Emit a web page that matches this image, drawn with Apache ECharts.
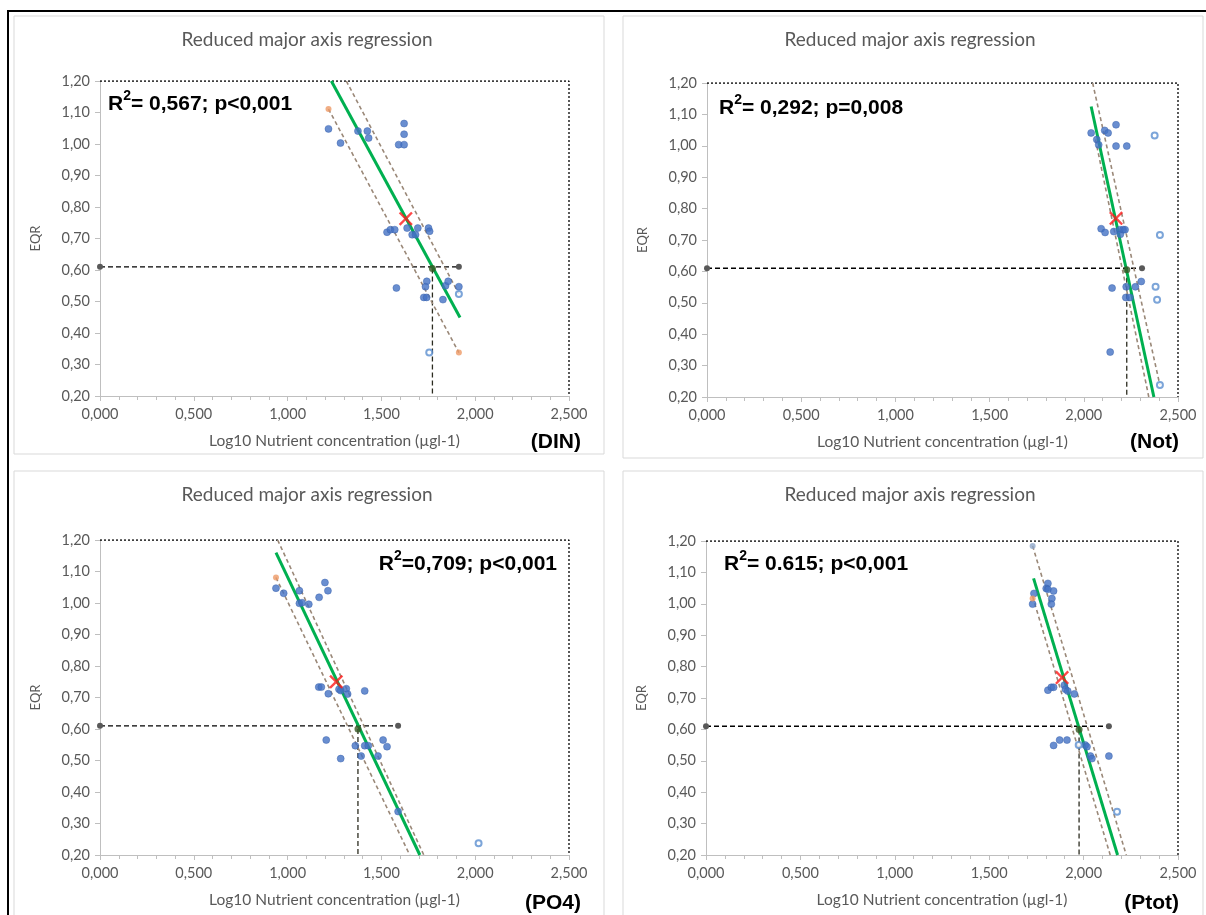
<!DOCTYPE html>
<html>
<head>
<meta charset="utf-8">
<script src="https://cdn.jsdelivr.net/npm/echarts@6/dist/echarts.min.js"></script>
<style>
  html, body { margin: 0; padding: 0; background: #fff; }
  #chart { width: 1206px; height: 915px; }
</style>
</head>
<body>
<div id="chart"></div>
<script>
// ---- Axis ticks ----
const xTicks = [0, 0.5, 1.0, 1.5, 2.0, 2.5];
const yTicks = [0.2, 0.3, 0.4, 0.5, 0.6, 0.7, 0.8, 0.9, 1.0, 1.1, 1.2];
const eqrBoundary = 0.61;

// ---- DIN ----
const dinPoints = [
  [1.218, 1.048], [1.282, 1.003], [1.375, 1.041], [1.425, 1.041], [1.432, 1.019],
  [1.621, 1.065], [1.621, 1.031], [1.592, 0.998], [1.621, 0.998],
  [1.530, 0.720], [1.548, 0.728], [1.571, 0.728], [1.637, 0.733], [1.664, 0.712],
  [1.682, 0.712], [1.694, 0.733], [1.751, 0.733], [1.757, 0.723],
  [1.742, 0.564], [1.735, 0.547], [1.726, 0.513], [1.741, 0.513], [1.580, 0.543],
  [1.828, 0.506], [1.842, 0.550], [1.856, 0.564], [1.913, 0.547]
];
const dinExcluded = [[1.913, 0.524], [1.755, 0.338]];
const dinBandEnds = [[1.218, 1.111], [1.913, 0.338]];
const dinFit = [[1.233, 1.2], [1.919, 0.449]];
const dinBandLow = [[1.218, 1.111], [1.913, 0.338]];
const dinBandHigh = [[1.313, 1.2], [1.913, 0.524]];
const dinCentroid = [[1.630, 0.763]];
const dinCross = [[1.772, 0.605]];
const dinGuideEnd = 1.913;

// ---- Not ----
const notPoints = [
  [2.039, 1.041], [2.069, 1.020], [2.079, 1.003], [2.111, 1.049], [2.129, 1.041],
  [2.171, 1.067], [2.171, 0.999], [2.228, 0.999],
  [2.092, 0.736], [2.113, 0.724], [2.159, 0.727], [2.192, 0.733], [2.194, 0.718],
  [2.209, 0.733], [2.219, 0.733],
  [2.150, 0.547], [2.225, 0.551], [2.223, 0.517], [2.245, 0.517], [2.274, 0.551],
  [2.305, 0.568], [2.140, 0.343]
];
const notExcluded = [[2.376, 1.033], [2.404, 0.716], [2.381, 0.551], [2.389, 0.510], [2.404, 0.238]];
const notBandEnds = [];
const notFit = [[2.039, 1.125], [2.372, 0.2]];
const notBandLow = [[2.062, 1.020], [2.345, 0.2]];
const notBandHigh = [[2.047, 1.2], [2.404, 0.238]];
const notCentroid = [[2.171, 0.769]];
const notCross = [[2.228, 0.605]];
const notGuideEnd = 2.309;

// ---- PO4 ----
const po4Points = [
  [0.938, 1.047], [0.979, 1.031], [1.063, 1.039], [1.063, 0.999], [1.077, 1.001],
  [1.113, 0.996], [1.168, 1.018], [1.199, 1.065], [1.215, 1.039],
  [1.166, 0.733], [1.180, 0.733], [1.217, 0.712], [1.274, 0.726], [1.283, 0.722],
  [1.313, 0.728], [1.320, 0.711], [1.411, 0.721],
  [1.206, 0.565], [1.283, 0.506], [1.361, 0.547], [1.392, 0.514], [1.411, 0.547],
  [1.430, 0.547], [1.482, 0.514], [1.509, 0.565], [1.530, 0.544], [1.589, 0.338]
];
const po4Excluded = [[2.018, 0.237]];
const po4BandEnds = [[0.938, 1.081]];
const po4Fit = [[0.938, 1.160], [1.705, 0.2]];
const po4BandLow = [[0.938, 1.081], [1.651, 0.2]];
const po4BandHigh = [[0.947, 1.2], [1.726, 0.2]];
const po4Centroid = [[1.259, 0.750]];
const po4Cross = [[1.375, 0.600]];
const po4GuideEnd = 1.589;

// ---- Ptot ----
const ptotPoints = [
  [1.730, 0.999], [1.737, 1.033], [1.811, 1.065], [1.802, 1.049], [1.811, 1.046],
  [1.841, 1.041], [1.832, 1.017], [1.829, 0.999],
  [1.811, 0.725], [1.829, 0.734], [1.841, 0.734], [1.898, 0.741], [1.904, 0.728],
  [1.916, 0.722], [1.951, 0.713],
  [1.841, 0.549], [1.873, 0.566], [1.912, 0.566], [2.009, 0.550], [2.018, 0.545],
  [2.036, 0.515], [2.044, 0.507], [2.134, 0.515]
];
const ptotExcluded = [[1.974, 0.550], [2.177, 0.338]];
const ptotBandEnds = [[1.730, 1.017]];
const ptotBandTop = [[1.730, 1.184]];
const ptotFit = [[1.735, 1.081], [2.180, 0.2]];
const ptotBandLow = [[1.730, 1.023], [2.141, 0.2]];
const ptotBandHigh = [[1.730, 1.184], [2.226, 0.2]];
const ptotCentroid = [[1.886, 0.765]];
const ptotCross = [[1.976, 0.600]];
const ptotGuideEnd = 2.134;

// ---- Panel labels ----
const panelTags = ['(DIN)', '(Not)', '(PO4)', '(Ptot)'];
const fitStats = ['= 0,567; p<0,001', '= 0,292; p=0,008', '=0,709; p<0,001', '= 0.615; p<0,001'];
const chartTitle = 'Reduced major axis regression';
const xName = 'Log10 Nutrient concentration (\u00b5gl-1)';
const yName = 'EQR';

// ---- Layout ----
const grids = [
  { left: 100, top: 81, width: 469, height: 315 },
  { left: 707, top: 83, width: 471, height: 314 },
  { left: 100, top: 540, width: 469, height: 315 },
  { left: 706, top: 541, width: 472, height: 314 }
];
const boxes = [
  { x: 14, y: 16, w: 590, h: 438 },
  { x: 623, y: 16, w: 580, h: 442 },
  { x: 14, y: 471, w: 590, h: 460 },
  { x: 623, y: 471, w: 580, h: 460 }
];
const statPos = [[108, 102, 'left'], [719, 106, 'left'], [557, 562, 'right'], [724, 562, 'left']];
const tagPos = [[581, 442], [1179, 442], [581, 903], [1179, 903]];

const panels = [
  { pts: dinPoints, exc: dinExcluded, ends: dinBandEnds, fit: dinFit, lo: dinBandLow, hi: dinBandHigh, cen: dinCentroid, cross: dinCross, gEnd: dinGuideEnd, top: [] },
  { pts: notPoints, exc: notExcluded, ends: notBandEnds, fit: notFit, lo: notBandLow, hi: notBandHigh, cen: notCentroid, cross: notCross, gEnd: notGuideEnd, top: [] },
  { pts: po4Points, exc: po4Excluded, ends: po4BandEnds, fit: po4Fit, lo: po4BandLow, hi: po4BandHigh, cen: po4Centroid, cross: po4Cross, gEnd: po4GuideEnd, top: [] },
  { pts: ptotPoints, exc: ptotExcluded, ends: ptotBandEnds, fit: ptotFit, lo: ptotBandLow, hi: ptotBandHigh, cen: ptotCentroid, cross: ptotCross, gEnd: ptotGuideEnd, top: ptotBandTop }
];

const grey = '#595959';
const labelFont = 'Lato, "Open Sans", sans-serif';
const boldFont = '"Liberation Sans", Arial, sans-serif';
const xMin = xTicks[0], xMax = xTicks[xTicks.length - 1];
const yMin = yTicks[0], yMax = yTicks[yTicks.length - 1];
const crossPath = 'path://M0,1.2L1.2,0L5,3.8L8.8,0L10,1.2L6.2,5L10,8.8L8.8,10L5,6.2L1.2,10L0,8.8L3.8,5Z';

const xAxes = [], yAxes = [], series = [], graphics = [];

// outer frame lines
graphics.push({ type: 'line', shape: { x1: 7, y1: 11, x2: 1206, y2: 11 }, style: { stroke: '#000', lineWidth: 2 } });
graphics.push({ type: 'line', shape: { x1: 8, y1: 11, x2: 8, y2: 915 }, style: { stroke: '#000', lineWidth: 2 } });

panels.forEach((p, i) => {
  const b = boxes[i];
  graphics.push({ type: 'rect', shape: { x: b.x, y: b.y, width: b.w, height: b.h },
    style: { fill: 'none', stroke: '#d9d9d9', lineWidth: 1 }, silent: true });
  graphics.push({ type: 'text', x: b.x + b.w / 2 - (i % 2 ? 3 : 2), y: b.y + 24,
    style: { text: chartTitle, font: '19px ' + labelFont, fill: grey, align: 'center', verticalAlign: 'middle' } });
  const sp = statPos[i];
  graphics.push({ type: 'text', x: sp[0], y: sp[1], z: 10,
    style: {
      text: '{r|R}{s|2}{r|' + fitStats[i] + '}',
      align: sp[2], verticalAlign: 'middle',
      rich: {
        r: { font: 'bold 21px ' + boldFont, fill: '#000', lineHeight: 26, verticalAlign: 'bottom' },
        s: { font: 'bold 14px ' + boldFont, fill: '#000', lineHeight: 26, verticalAlign: 'top' }
      }
    } });
  const tp = tagPos[i];
  graphics.push({ type: 'text', x: tp[0], y: tp[1],
    style: { text: panelTags[i], font: 'bold 21px ' + boldFont, fill: '#000', align: 'right', verticalAlign: 'middle' } });

  xAxes.push({
    type: 'value', gridIndex: i, min: xMin, max: xMax, interval: xTicks[1] - xTicks[0],
    name: xName, nameLocation: 'middle', nameGap: 37,
    nameTextStyle: { color: grey, fontFamily: labelFont, fontSize: 15.5 },
    axisLine: { lineStyle: { color: '#bfbfbf' } },
    axisTick: { show: true, length: 5, lineStyle: { color: '#bfbfbf' } },
    minorTick: { show: true, splitNumber: 5, length: 4, lineStyle: { color: '#bfbfbf' } },
    splitLine: { show: false },
    axisLabel: { color: grey, fontFamily: labelFont, fontSize: 14.5, margin: 11,
      formatter: v => v.toFixed(3).replace('.', ',') }
  });
  yAxes.push({
    type: 'value', gridIndex: i, min: yMin, max: yMax, interval: 0.1,
    name: yName, nameLocation: 'middle', nameGap: 58, nameRotate: 90,
    nameTextStyle: { color: grey, fontFamily: labelFont, fontSize: 13 },
    axisLine: { show: true, lineStyle: { color: '#bfbfbf' } },
    axisTick: { show: true, length: 5, lineStyle: { color: '#bfbfbf' } },
    splitLine: { show: false },
    axisLabel: { color: grey, fontFamily: labelFont, fontSize: 14.5, margin: 10,
      formatter: v => v.toFixed(2).replace('.', ',') }
  });

  const ax = { xAxisIndex: i, yAxisIndex: i };
  // dotted top/right frame of the plot
  series.push(Object.assign({ type: 'line', data: [[xMin, yMax], [xMax, yMax], [xMax, yMin]],
    symbol: 'none', silent: true, lineStyle: { color: '#000', width: 1.3, type: [2, 2] }, z: 1 }, ax));
  // boundary guide lines
  series.push(Object.assign({ type: 'line', data: [[xMin, eqrBoundary], [p.gEnd, eqrBoundary]],
    symbol: 'circle', symbolSize: 6, itemStyle: { color: '#595959' },
    lineStyle: { color: '#000', width: 1.3, type: [5, 3] }, z: 2 }, ax));
  series.push(Object.assign({ type: 'line', data: [p.cross[0], [p.cross[0][0], yMin]],
    symbol: 'none', lineStyle: { color: '#2b2b1f', width: 1.3, type: [5, 3] }, z: 2 }, ax));
  // confidence band lines
  [p.lo, p.hi].forEach(d => series.push(Object.assign({ type: 'line', data: d, symbol: 'none',
    lineStyle: { color: '#9a8878', width: 1.6, type: [4, 3] }, z: 3 }, ax)));
  // fitted RMA line
  series.push(Object.assign({ type: 'line', data: p.fit, symbol: 'none',
    lineStyle: { color: '#00b050', width: 3 }, z: 4 }, ax));
  // observations
  series.push(Object.assign({ type: 'scatter', data: p.pts, symbol: 'circle', symbolSize: 7,
    itemStyle: { color: '#4472c4', borderColor: '#3a64ad', borderWidth: 0.6 }, z: 5 }, ax));
  series.push(Object.assign({ type: 'scatter', data: p.exc, symbol: 'emptyCircle', symbolSize: 6,
    itemStyle: { color: '#5b8fd0', borderWidth: 1.5 }, z: 5 }, ax));
  series.push(Object.assign({ type: 'scatter', data: p.ends, symbol: 'circle', symbolSize: 6,
    itemStyle: { color: '#ee9a66' }, z: 5 }, ax));
  series.push(Object.assign({ type: 'scatter', data: p.top, symbol: 'circle', symbolSize: 6,
    itemStyle: { color: '#8fa6c8' }, z: 5 }, ax));
  series.push(Object.assign({ type: 'scatter', data: p.cross, symbol: 'circle', symbolSize: 7,
    itemStyle: { color: '#375623' }, z: 6 }, ax));
  series.push(Object.assign({ type: 'scatter', data: p.cen, symbol: crossPath, symbolSize: 14,
    itemStyle: { color: '#ff1a1a' }, z: 7 }, ax));
});

const chart = echarts.init(document.getElementById('chart'), null, { renderer: 'canvas' });
chart.setOption({
  animation: false,
  backgroundColor: '#fff',
  grid: grids.map(g => Object.assign({ containLabel: false }, g)),
  xAxis: xAxes,
  yAxis: yAxes,
  series: series,
  graphic: { elements: graphics }
});
</script>
</body>
</html>
